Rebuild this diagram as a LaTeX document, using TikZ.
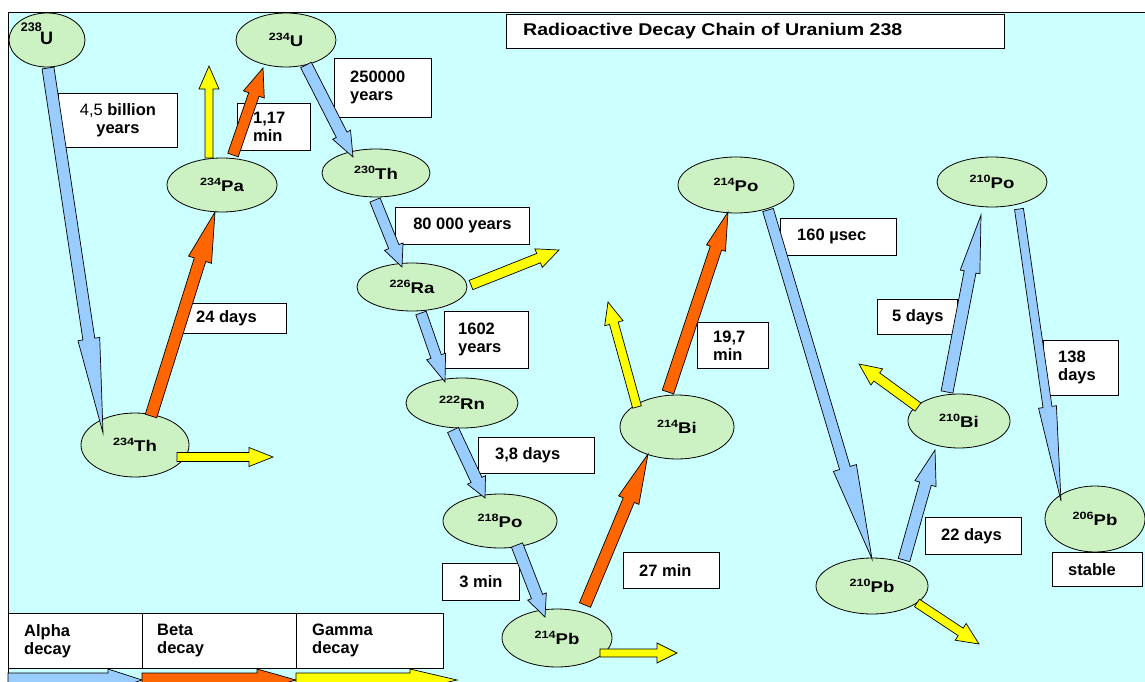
\documentclass[tikz,border=0pt]{standalone}
\usepackage{fontspec}
\setmainfont{Liberation Sans}
\newfontfamily\widefont{Liberation Sans}[FakeStretch=1.2]
\newfontfamily\titlefont{Liberation Sans}[FakeStretch=1.15]
\usetikzlibrary{calc,shapes.geometric}
\definecolor{bgcol}{RGB}{204,255,255}
\definecolor{ncol}{RGB}{204,242,196}
\definecolor{acol}{RGB}{153,204,255}
\definecolor{bcol}{RGB}{255,102,0}
\definecolor{gcol}{RGB}{255,255,0}
\newcommand\iso[2]{\raisebox{6.5pt}{\fontsize{10.5}{10.5}\selectfont #1}#2}
\newcommand\blockarr[6]{%
  \coordinate (bas) at (#2);
  \coordinate (bae) at (#3);
  \coordinate (bah) at ($(bae)!#6!(bas)$);
  \draw[arr, fill=#1] ($(bas)!#4!90:(bae)$) -- ($(bah)!#4!-90:(bas)$) -- ($(bah)!#5!-90:(bas)$) -- (bae) -- ($(bah)!#5!90:(bas)$) -- ($(bah)!#4!90:(bas)$) -- ($(bas)!#4!-90:(bae)$) -- cycle;}
\begin{document}
\begin{tikzpicture}[x=1pt,y=-1pt,
  ell/.style 2 args={ellipse, draw, fill=ncol, line width=0.8pt, inner sep=0pt,
    minimum width=#1pt, minimum height=#2pt, font=\widefont\bfseries\fontsize{15.5}{15.5}\selectfont},
  box/.style 2 args={draw, fill=white, line width=0.8pt, anchor=north west, inner sep=0pt,
    minimum width=#1pt, minimum height=#2pt},
  txt/.style={inner sep=0pt, font=\bfseries\fontsize{16.5}{18}\selectfont, align=left},
  arr/.style={draw=black, line width=0.7pt, line join=miter}]
\useasboundingbox (0,0) rectangle (1145,682);
\clip (0,0) rectangle (1145,682);
\fill[bgcol] (8,12) rectangle (1145,682);
\draw[line width=0.8pt] (8,682) -- (8,12) -- (1145,12);

% nuclides
\node[ell={76}{54}] (U238) at (47,40) {};
\node[txt, anchor=base, font=\bfseries\fontsize{18}{18}\selectfont] (U238el) at ($(U238)+(-0.5,5)$) {U};
\node[txt, anchor=base east, font=\bfseries\fontsize{12.5}{12.5}\selectfont] (U238mass) at ($(U238)+(-5,-8)$) {238};
\node[ell={100}{54}] (U234) at (286,40) {\iso{234}{U}};
\node[ell={110}{54}] (Pa234) at (222,185) {\iso{234}{Pa}};
\node[ell={108}{48}] (Th230) at (376,173) {\iso{230}{Th}};
\node[ell={110}{48}] (Ra226) at (412,287) {\iso{226}{Ra}};
\node[ell={112}{50}] (Rn222) at (462,403) {\iso{222}{Rn}};
\node[ell={114}{54}] (Po218) at (500,521) {\iso{218}{Po}};
\node[ell={110}{58}] (Pb214) at (557,638) {\iso{214}{Pb}};
\node[ell={114}{64}] (Bi214) at (677,427) {\iso{214}{Bi}};
\node[ell={116}{56}] (Po214) at (736,185) {\iso{214}{Po}};
\node[ell={110}{50}] (Po210) at (992,182) {\iso{210}{Po}};
\node[ell={102}{54}] (Bi210) at (959,421) {\iso{210}{Bi}};
\node[ell={112}{56}] (Pb210) at (872,586) {\iso{210}{Pb}};
\node[ell={100}{66}] (Pb206) at (1095,519) {\iso{206}{Pb}};
\node[ell={108}{64}] (Th234) at (135,445) {\iso{234}{Th}};

% labels
\node[box={498}{34}] (title) at (506,14) {};
\node[txt, anchor=west, font=\titlefont\bfseries\fontsize{17}{17}\selectfont] (titletext) at ($(title.west)+(17,0)$) {Radioactive Decay Chain of Uranium 238};
\node[box={119}{54}] (b1) at (58,93) {};
\node[txt, align=center] (t1) at (b1.center) {{\mdseries 4,5} billion\\years};
\node[box={73}{47}] (b2) at (237,103) {};
\node[txt, anchor=west] (t2) at ($(b2.west)+(16,0)$) {1,17\\min};
\node[box={97}{59}] (b3) at (334,58) {};
\node[txt, anchor=west] (t3) at ($(b3.west)+(16,0)$) {250000\\years};
\node[box={134}{37}] (b4) at (395,207) {};
\node[txt] (t4) at (b4.center) {80 000 years};
\node[box={84}{57}] (b5) at (444,311) {};
\node[txt, anchor=west] (t5) at ($(b5.west)+(14,0)$) {1602\\years};
\node[box={116}{36}] (b6) at (478,437) {};
\node[txt, anchor=west] (t6) at ($(b6.west)+(17,0)$) {3,8 days};
\node[box={77}{37}] (b7) at (442,563) {};
\node[txt] (t7) at (b7.center) {3 min};
\node[box={96}{36}] (b8) at (623,552) {};
\node[txt, anchor=west] (t8) at ($(b8.west)+(16,0)$) {27 min};
\node[box={106}{30}] (b9) at (180,303) {};
\node[txt, anchor=west] (t9) at ($(b9.west)+(16,0)$) {24 days};
\node[box={71}{46}] (b10) at (697,322) {};
\node[txt, anchor=west] (t10) at ($(b10.west)+(16,0)$) {19,7\\min};
\node[box={116}{37}] (b11) at (780,218) {};
\node[txt, anchor=west] (t11) at ($(b11.west)+(17,0)$) {160 µsec};
\node[box={80}{35}] (b12) at (877,299) {};
\node[txt, anchor=west] (t12) at ($(b12.west)+(15,0)$) {5 days};
\node[box={75}{55}] (b13) at (1043,340) {};
\node[txt, anchor=west] (t13) at ($(b13.west)+(15,0)$) {138\\days};
\node[box={96}{37}] (b14) at (925,517) {};
\node[txt, anchor=west] (t14) at ($(b14.west)+(16,0)$) {22 days};
\node[box={90}{34}] (b15) at (1052,552) {};
\node[txt, anchor=west] (t15) at ($(b15.west)+(16,0)$) {stable};

% legend
\node[box={134}{55}] (lg1) at (8,613) {};
\node[txt, anchor=west] (lt1) at ($(lg1.west)+(16,0)$) {Alpha\\decay};
\node[box={154}{55}] (lg2) at (142,613) {};
\node[txt, anchor=west] (lt2) at ($(lg2.west)+(15,0)$) {Beta\\decay};
\node[box={147}{55}] (lg3) at (296,613) {};
\node[txt, anchor=west] (lt3) at ($(lg3.west)+(16,0)$) {Gamma\\decay};
\coordinate (L0) at (8,680);
\coordinate (L1) at (142,680);
\coordinate (L2) at (296,680);
\coordinate (L3) at (457,680);
\blockarr{acol}{L0}{L1}{7pt}{11pt}{34pt}
\blockarr{bcol}{L1}{L2}{7pt}{11pt}{39pt}
\blockarr{gcol}{L2}{L3}{7pt}{11pt}{47pt}

% free ends of gamma arrows
\coordinate (g1) at (209,66);
\coordinate (g2) at (559,250);
\coordinate (g3) at (677,653);
\coordinate (g4) at (608,302);
\coordinate (g5) at (979,644);
\coordinate (g6) at (859,364);
\coordinate (g7) at (273,457);

% decay arrows
\blockarr{acol}{$(U238)+(1,28)$}{$(Th234)+(-32,-12)$}{6pt}{11pt}{95pt}
\blockarr{bcol}{$(Th234)+(16,-29)$}{$(Pa234)+(-7,27)$}{6pt}{12pt}{50pt}
\blockarr{bcol}{$(Pa234)+(11,-30)$}{$(U234)+(-23,28)$}{5.5pt}{11pt}{28pt}
\blockarr{gcol}{$(Pa234)+(-13,-27)$}{g1}{4pt}{10pt}{23pt}
\blockarr{acol}{$(U234)+(20,25)$}{$(Th230)+(-23,-16)$}{6pt}{10pt}{25pt}
\blockarr{acol}{$(Th230)+(-1,27)$}{$(Ra226)+(-10,-20)$}{5.5pt}{10pt}{22pt}
\blockarr{gcol}{$(Ra226)+(59,-2)$}{g2}{5pt}{10pt}{22pt}
\blockarr{acol}{$(Ra226)+(9,26)$}{$(Rn222)+(-17,-21)$}{5.5pt}{10pt}{27pt}
\blockarr{acol}{$(Rn222)+(-9,27)$}{$(Po218)+(-15,-23)$}{6pt}{10pt}{20pt}
\blockarr{acol}{$(Po218)+(17,24)$}{$(Pb214)+(-12,-21)$}{6pt}{10pt}{22pt}
\blockarr{bcol}{$(Pb214)+(28,-33)$}{$(Bi214)+(-29,27)$}{6pt}{11pt}{50pt}
\blockarr{gcol}{$(Pb214)+(43,15)$}{g3}{4pt}{10pt}{20pt}
\blockarr{gcol}{$(Bi214)+(-40,-20)$}{g4}{4.5pt}{9.5pt}{22pt}
\blockarr{bcol}{$(Bi214)+(-9,-35)$}{$(Po214)+(-8,27)$}{6pt}{10pt}{38pt}
\blockarr{acol}{$(Po214)+(32,25)$}{$(Pb210)+(0,-27)$}{5.5pt}{12pt}{95pt}
\blockarr{acol}{$(Pb210)+(32,-26)$}{$(Bi210)+(-24,29)$}{6pt}{11pt}{35pt}
\blockarr{gcol}{$(Pb210)+(45,17)$}{g5}{4.5pt}{10pt}{22pt}
\blockarr{acol}{$(Bi210)+(-12,-29)$}{$(Po210)+(-11,33)$}{6pt}{10pt}{58pt}
\blockarr{gcol}{$(Bi210)+(-41,-14)$}{g6}{5pt}{10pt}{22pt}
\blockarr{acol}{$(Po210)+(27,27)$}{$(Pb206)+(-34,-18)$}{4.5pt}{9pt}{95pt}
\blockarr{gcol}{$(Th234)+(42,12)$}{g7}{4.5pt}{9.5pt}{24pt}
\end{tikzpicture}
\end{document}
